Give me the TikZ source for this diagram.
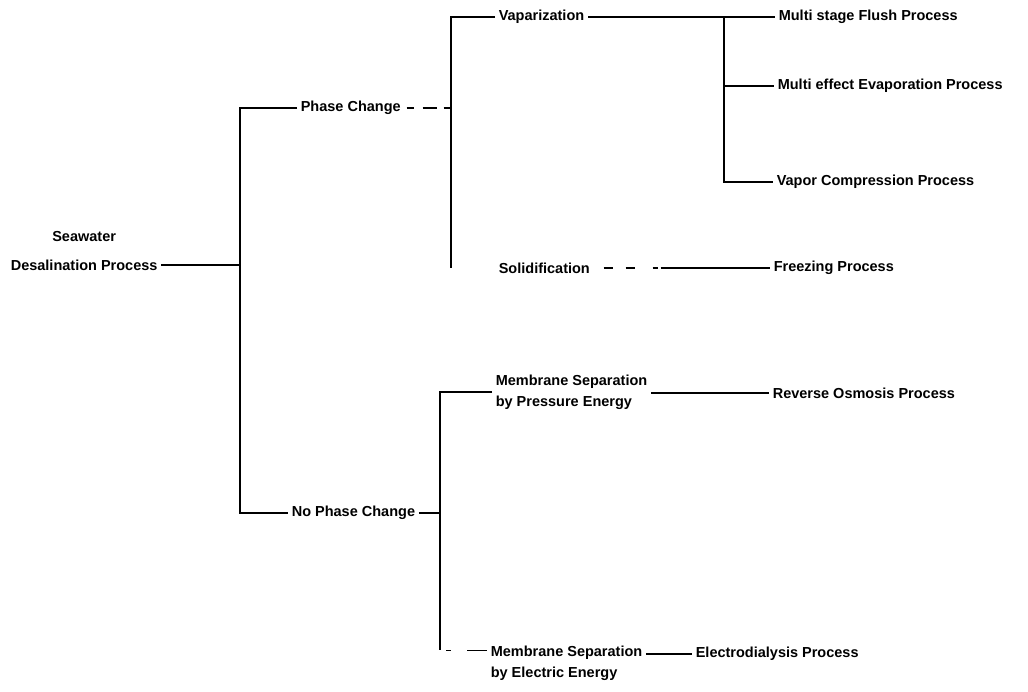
\documentclass[tikz,border=0pt]{standalone}
\usepackage{fontspec}
\setmainfont{Liberation Sans}
\begin{document}
\begin{tikzpicture}[x=1pt,y=-1pt,line width=1.6pt]

	\tikzstyle{item}=[font=\fontsize{14.5}{21}\selectfont\bfseries, inner xsep=3pt, inner ysep=1pt, anchor=west]
	\tikzstyle{twoline}=[item, align=left]
	\useasboundingbox (0,0) rectangle (1028,692);

	% left side
	\node[item, align=center] (root) at (7,251) {Seawater\\[8pt]Desalination Process};
	\node[item] (pc) at (297,108) {Phase Change};
	\node[item] (npc) at (288,513) {No Phase Change};

	% phase change
	\node[item] (vap) at (495,17) {Vaparization};
	\node[item] (sol) at (495,268) {Solidification};
	\node[item] (msf) at (775,17) {Multi stage Flush Process};
	\node[item] (mee) at (774,86) {Multi effect Evaporation Process};
	\node[item] (vc) at (773,182) {Vapor Compression Process};
	\node[item] (frz) at (770,268) {Freezing Process};

	% no phase change
	\node[twoline] (mbp) at (492,392) {Membrane Separation\\by Pressure Energy};
	\node[item] (ro) at (769,393) {Reverse Osmosis Process};
	\node[twoline] (mbe) at (487,663) {Membrane Separation\\by Electric Energy};
	\node[item] (ed) at (692,654) {Electrodialysis Process};

	\coordinate (j1) at (240,265);
	\coordinate (j2) at (451,108);
	\coordinate (j3) at (724,17);
	\coordinate (j4) at (440,513);
	\coordinate (e1) at ([yshift=-6.5pt]mbe.north west);

	\draw (root.east |- j1) -- (j1);
	\draw (pc.west) -| (j1) |- (npc.west);

	\draw[dash pattern=on 0pt off 2pt on 7pt off 9pt on 14pt off 7pt on 40pt] (pc.east) -- (j2);
	\draw (vap.west) -| (j2 |- sol.west);
	\draw (vap.east) -- (msf.west);
	\draw (j3) |- (vc.west);
	\draw (j3 |- mee.west) -- (mee.west);
	\draw[dash pattern=on 0pt off 10pt on 9pt off 13pt on 9pt off 18pt on 5pt off 3pt on 200pt] (sol.east) -- (sol.east -| frz.west);

	\draw (npc.east) -- (j4);
	\draw (mbp.west) -| (j4) -- (j4 |- e1);
	\draw[dash pattern=on 0pt off 6pt on 5pt off 16pt on 30pt] (j4 |- e1) -- (e1);
	\draw (mbp.east |- ro.west) -- (ro.west);
	\draw (ed.west -| mbe.east) -- (ed.west);

\end{tikzpicture}
\end{document}
